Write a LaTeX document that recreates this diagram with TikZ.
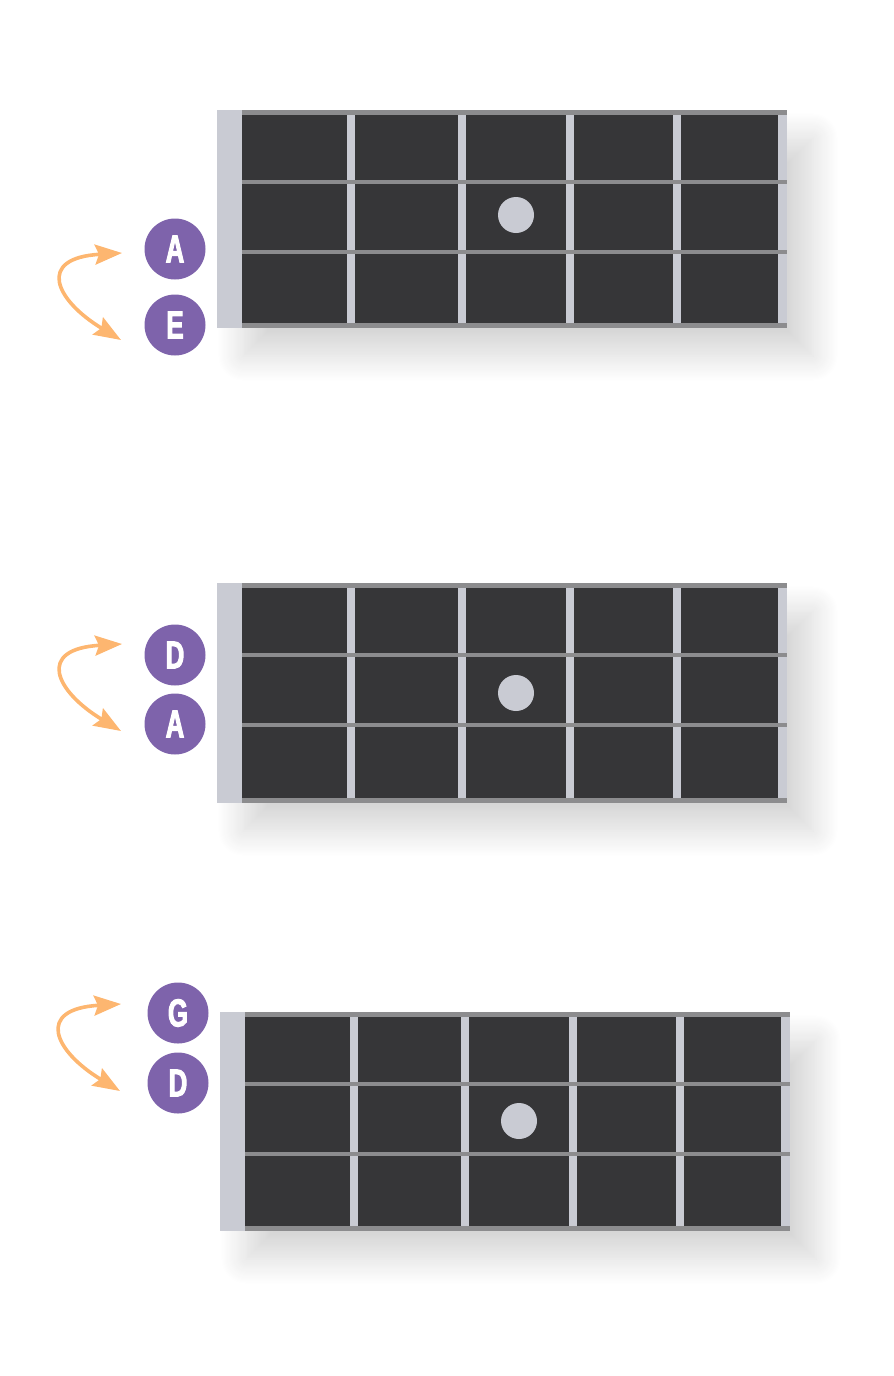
\documentclass[tikz,border=0pt]{standalone}
\usepackage{fontspec}
\newfontfamily\labfont{Liberation Sans Bold}[FakeStretch=0.66,FakeBold=2.5]
\usetikzlibrary{arrows.meta,shadows.blur}
\definecolor{boarddark}{HTML}{363638}
\definecolor{stringgray}{HTML}{8C8C8E}
\definecolor{fretlight}{HTML}{C9CBD3}
\definecolor{notepurple}{HTML}{7E63AB}
\definecolor{arroworange}{HTML}{FDB670}
\tikzset{
  boardbg/.style={fill=boarddark, blur shadow={shadow xshift=26pt, shadow yshift=-28pt, shadow blur radius=26pt, shadow blur steps=24, shadow opacity=16}},
  fretbar/.style={fill=fretlight},
  stringline/.style={fill=stringgray},
  fretdot/.style={circle, fill=fretlight, minimum size=36pt, inner sep=0pt},
  notecircle/.style={circle, fill=notepurple, minimum size=61pt, inner sep=0pt, text=white,
    font=\labfont\fontsize{39}{39}\selectfont},
  swaparrow/.style={draw=arroworange, line width=3.6pt, {Stealth[length=27pt,width=20pt,inset=4pt]}-{Stealth[length=27pt,width=20pt,inset=4pt]}}
}
\newcommand\drawfretboard[3]{%
  \begin{scope}[shift={(#1,#2)}]
    \path[boardbg] (0,0) rectangle (570,#3);
    \foreach \fx in {134,245,353,460} {\fill[fretbar] (\fx-4,0) rectangle (\fx+4,#3);}
    \fill[fretbar] (0,0) rectangle (25,#3);
    \fill[fretbar] (561,0) rectangle (570,#3);
    \fill[stringline] (25,0) rectangle (570,5);
    \fill[stringline] (25,70) rectangle (570,74);
    \fill[stringline] (25,140) rectangle (570,144);
    \fill[stringline] (25,#3-5) rectangle (570,#3);
  \end{scope}}
\newcommand\drawswap[3]{%
  \begin{scope}[shift={(#1,#2)}]
    \coordinate (#3top) at (0,0);
    \coordinate (#3bot) at (-1,87);
    \draw[swaparrow] (#3top) .. controls (-86,5) and (-67,47) .. (#3bot);
  \end{scope}}
\begin{document}
\begin{tikzpicture}[x=1pt,y=-1pt]
\useasboundingbox (0,0) rectangle (894,1376);
% board 1
\drawfretboard{217}{110}{218}
\node[fretdot] (dotone) at (516,215) {};
\node[notecircle] (noteA1) at (175,249) {A};
\node[notecircle] (noteE1) at (175,325) {E};
\drawswap{122}{253}{sone}
% board 2
\drawfretboard{217}{583}{220}
\node[fretdot] (dottwo) at (516,693) {};
\node[notecircle] (noteD2) at (175,655) {D};
\node[notecircle] (noteA2) at (175,724) {A};
\drawswap{122}{644}{stwo}
% board 3
\drawfretboard{220}{1012}{219}
\node[fretdot] (dotthree) at (519,1121) {};
\node[notecircle] (noteG3) at (178,1013) {G};
\node[notecircle] (noteD3) at (178,1083) {D};
\drawswap{121}{1004}{sthree}
\end{tikzpicture}
\end{document}
